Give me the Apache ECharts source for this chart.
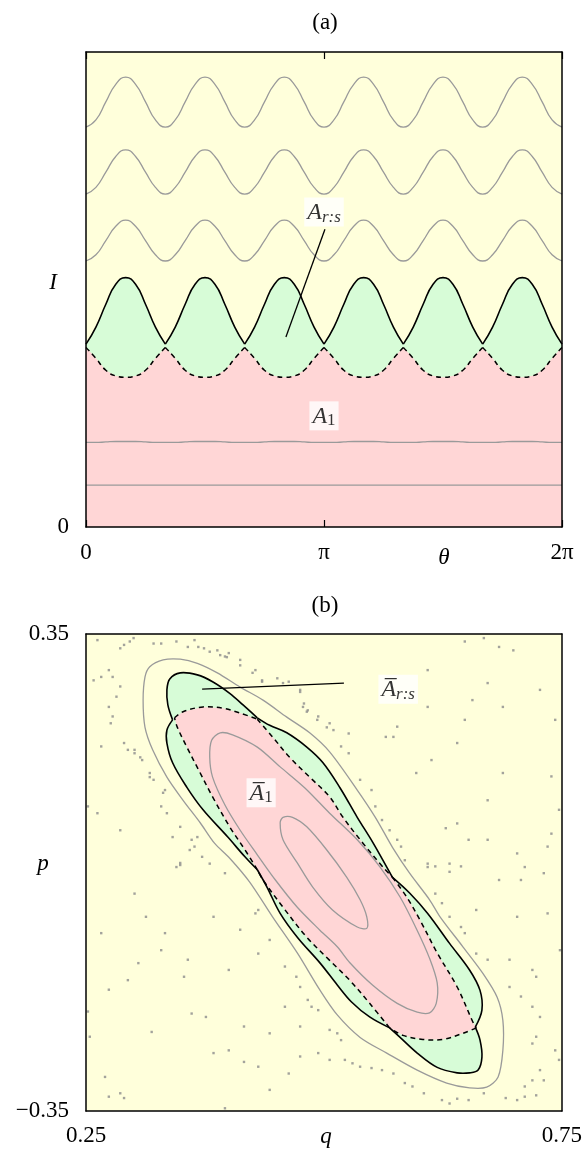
<!DOCTYPE html>
<html><head><meta charset="utf-8">
<script src="https://cdn.jsdelivr.net/npm/echarts@6.0.0/dist/echarts.min.js"></script>
<style>html,body{margin:0;padding:0;background:#fff}#c{width:585px;height:1150px}</style>
</head><body><div id="c"></div>
<script>
// ---------- panel (a): theta in units of pi, action I (0..1) ----------
const thetaTicks = ['0', 'π', '2π'];
const thetaGrid = [0, 0.0417, 0.0833, 0.125, 0.1667, 0.2083, 0.25, 0.2917, 0.3333, 0.375, 0.4167, 0.4583,
  0.5, 0.5417, 0.5833, 0.625, 0.6667, 0.7083, 0.75, 0.7917, 0.8333, 0.875, 0.9167, 0.9583,
  1, 1.0417, 1.0833, 1.125, 1.1667, 1.2083, 1.25, 1.2917, 1.3333, 1.375, 1.4167, 1.4583,
  1.5, 1.5417, 1.5833, 1.625, 1.6667, 1.7083, 1.75, 1.7917, 1.8333, 1.875, 1.9167, 1.9583, 2];
const lobeCusps = [0, 8, 16, 24, 32, 40, 48];   // grid indices of the separatrix cusps
const sepOuterI = [
  0.385, 0.421, 0.469, 0.511, 0.525, 0.511, 0.469, 0.421,
  0.385, 0.421, 0.469, 0.511, 0.525, 0.511, 0.469, 0.421,
  0.385, 0.421, 0.469, 0.511, 0.525, 0.511, 0.469, 0.421,
  0.385, 0.421, 0.469, 0.511, 0.525, 0.511, 0.469, 0.421,
  0.385, 0.421, 0.469, 0.511, 0.525, 0.511, 0.469, 0.421,
  0.385, 0.421, 0.469, 0.511, 0.525, 0.511, 0.469, 0.421, 0.385];
const sepInnerI = [
  0.378, 0.355, 0.330, 0.318, 0.315, 0.318, 0.330, 0.355,
  0.378, 0.355, 0.330, 0.318, 0.315, 0.318, 0.330, 0.355,
  0.378, 0.355, 0.330, 0.318, 0.315, 0.318, 0.330, 0.355,
  0.378, 0.355, 0.330, 0.318, 0.315, 0.318, 0.330, 0.355,
  0.378, 0.355, 0.330, 0.318, 0.315, 0.318, 0.330, 0.355,
  0.378, 0.355, 0.330, 0.318, 0.315, 0.318, 0.330, 0.355, 0.378];
const torus1I = [
  0.842, 0.857, 0.895, 0.932, 0.947, 0.932, 0.895, 0.857,
  0.842, 0.857, 0.895, 0.932, 0.947, 0.932, 0.895, 0.857,
  0.842, 0.857, 0.895, 0.932, 0.947, 0.932, 0.895, 0.857,
  0.842, 0.857, 0.895, 0.932, 0.947, 0.932, 0.895, 0.857,
  0.842, 0.857, 0.895, 0.932, 0.947, 0.932, 0.895, 0.857,
  0.842, 0.857, 0.895, 0.932, 0.947, 0.932, 0.895, 0.857, 0.842];
const torus2I = [
  0.701, 0.715, 0.747, 0.780, 0.794, 0.780, 0.747, 0.715,
  0.701, 0.715, 0.747, 0.780, 0.794, 0.780, 0.747, 0.715,
  0.701, 0.715, 0.747, 0.780, 0.794, 0.780, 0.747, 0.715,
  0.701, 0.715, 0.747, 0.780, 0.794, 0.780, 0.747, 0.715,
  0.701, 0.715, 0.747, 0.780, 0.794, 0.780, 0.747, 0.715,
  0.701, 0.715, 0.747, 0.780, 0.794, 0.780, 0.747, 0.715, 0.701];
const torus3I = [
  0.560, 0.573, 0.603, 0.633, 0.646, 0.633, 0.603, 0.573,
  0.560, 0.573, 0.603, 0.633, 0.646, 0.633, 0.603, 0.573,
  0.560, 0.573, 0.603, 0.633, 0.646, 0.633, 0.603, 0.573,
  0.560, 0.573, 0.603, 0.633, 0.646, 0.633, 0.603, 0.573,
  0.560, 0.573, 0.603, 0.633, 0.646, 0.633, 0.603, 0.573,
  0.560, 0.573, 0.603, 0.633, 0.646, 0.633, 0.603, 0.573, 0.560];
const torus4I = [
  0.178, 0.178, 0.179, 0.180, 0.180, 0.180, 0.179, 0.178,
  0.178, 0.178, 0.179, 0.180, 0.180, 0.180, 0.179, 0.178,
  0.178, 0.178, 0.179, 0.180, 0.180, 0.180, 0.179, 0.178,
  0.178, 0.178, 0.179, 0.180, 0.180, 0.180, 0.179, 0.178,
  0.178, 0.178, 0.179, 0.180, 0.180, 0.180, 0.179, 0.178,
  0.178, 0.178, 0.179, 0.180, 0.180, 0.180, 0.179, 0.178, 0.178];
const thetaEnds = [0, 2];
const torus5I = [0.088, 0.088];
const labelA_rs = [1.0, 0.663];
const pointerA_rs = [[1.004, 0.627], [0.840, 0.400]];
const labelA_1 = [1.0, 0.234];

// ---------- panel (b): (q, p) ----------
const qTicks = [0.25, 0.75];
const pTicks = [-0.35, 0.35];
const outerTorus = [[0.312,0.287],[0.317,0.302],[0.331,0.312],[0.349,0.313],[0.367,0.307],[0.388,0.293],
  [0.412,0.272],[0.436,0.253],[0.461,0.228],[0.485,0.205],[0.506,0.177],[0.535,0.121],[0.554,0.081],
  [0.572,0.037],[0.590,-0.001],[0.611,-0.040],[0.622,-0.065],[0.646,-0.109],[0.667,-0.148],[0.682,-0.183],
  [0.688,-0.217],[0.688,-0.261],[0.683,-0.300],[0.671,-0.315],[0.653,-0.316],[0.629,-0.309],[0.598,-0.290],
  [0.566,-0.265],[0.538,-0.242],[0.514,-0.209],[0.496,-0.173],[0.472,-0.118],[0.446,-0.065],[0.422,-0.014],
  [0.401,0.021],[0.385,0.043],[0.370,0.073],[0.352,0.106],[0.335,0.140],[0.320,0.180],[0.312,0.213],[0.310,0.253]];
const sepOuterQP = [[0.341,0.224],[0.336,0.246],[0.335,0.268],[0.338,0.284],[0.349,0.293],[0.367,0.290],
  [0.383,0.280],[0.401,0.263],[0.415,0.246],[0.430,0.227],[0.443,0.216],[0.461,0.205],[0.482,0.184],
  [0.499,0.161],[0.517,0.124],[0.535,0.081],[0.551,0.045],[0.566,0.008],[0.572,-0.007],[0.590,-0.030],
  [0.609,-0.060],[0.632,-0.104],[0.653,-0.143],[0.664,-0.173],[0.666,-0.202],[0.659,-0.227],[0.664,-0.246],
  [0.666,-0.271],[0.662,-0.290],[0.653,-0.294],[0.640,-0.294],[0.619,-0.286],[0.598,-0.265],[0.580,-0.242],
  [0.569,-0.228],[0.548,-0.212],[0.529,-0.190],[0.514,-0.165],[0.496,-0.133],[0.472,-0.095],[0.454,-0.060],
  [0.440,-0.021],[0.430,0.004],[0.417,0.023],[0.399,0.052],[0.373,0.092],[0.356,0.125],[0.341,0.161],
  [0.335,0.190],[0.335,0.209]];
const sepOuterCorners = [0, 9, 18, 25, 34, 42];
const sepInnerQP = [[0.343,0.227],[0.352,0.236],[0.373,0.243],[0.394,0.241],[0.412,0.234],[0.430,0.225],
  [0.446,0.199],[0.464,0.169],[0.485,0.140],[0.506,0.111],[0.520,0.081],[0.541,0.043],[0.562,0.008],
  [0.572,-0.007],[0.587,-0.036],[0.601,-0.070],[0.619,-0.118],[0.640,-0.168],[0.657,-0.221],[0.660,-0.228],
  [0.646,-0.236],[0.625,-0.245],[0.604,-0.245],[0.583,-0.239],[0.569,-0.228],[0.548,-0.192],[0.527,-0.158],
  [0.506,-0.129],[0.482,-0.095],[0.457,-0.051],[0.436,-0.011],[0.430,0.004],[0.419,0.029],[0.401,0.067],
  [0.383,0.111],[0.370,0.146],[0.356,0.184],[0.346,0.213]];
const sepInnerCorners = [0, 5, 13, 19, 24, 31];
const innerTorus1 = [[0.391,0.205],[0.382,0.194],[0.380,0.169],[0.383,0.140],[0.396,0.099],[0.412,0.062],
  [0.430,0.026],[0.449,-0.011],[0.472,-0.051],[0.496,-0.085],[0.514,-0.109],[0.527,-0.132],[0.551,-0.165],
  [0.577,-0.192],[0.598,-0.205],[0.611,-0.206],[0.618,-0.192],[0.619,-0.162],[0.611,-0.126],[0.598,-0.085],
  [0.580,-0.036],[0.559,0.008],[0.535,0.048],[0.506,0.087],[0.480,0.124],[0.454,0.155],[0.430,0.184],[0.404,0.202]];
const innerTorus2 = [[0.457,0.081],[0.454,0.073],[0.457,0.048],[0.472,0.014],[0.488,-0.021],[0.509,-0.055],
  [0.535,-0.080],[0.545,-0.082],[0.545,-0.065],[0.538,-0.040],[0.524,-0.007],[0.503,0.033],[0.482,0.067],[0.467,0.081]];
const chaoticDots = [
  [0.262,0.341],[0.286,0.329],[0.290,0.334],[0.296,0.339],[0.300,0.344],[0.321,0.336],[0.329,0.336],[0.345,0.339],
  [0.357,0.331],[0.364,0.341],[0.368,0.331],[0.374,0.329],[0.380,0.324],[0.388,0.326],[0.396,0.317],[0.400,0.322],
  [0.412,0.312],[0.428,0.297],[0.435,0.282],[0.451,0.285],[0.463,0.280],[0.475,0.268],[0.479,0.248],[0.483,0.238],
  [0.494,0.229],[0.506,0.219],[0.510,0.209],[0.518,0.185],[0.526,0.175],[0.538,0.136],[0.550,0.121],[0.554,0.097],
  [0.561,0.077],[0.569,0.062],[0.577,0.048],[0.581,0.038],[0.585,0.018],
  [0.258,0.282],[0.266,0.287],[0.274,0.297],[0.278,0.287],[0.286,0.273],[0.282,0.258],[0.274,0.243],[0.278,0.229],
  [0.276,0.219],[0.266,0.185],[0.290,0.190],[0.294,0.180],[0.301,0.175],[0.309,0.165],[0.317,0.146],[0.321,0.136],
  [0.333,0.121],[0.329,0.097],[0.349,0.067],[0.361,0.048],[0.364,0.038],[0.372,0.023],[0.380,0.013],[0.345,0.008],
  [0.286,0.062],[0.262,0.087],[0.252,0.097],
  [0.609,0.297],[0.648,0.339],[0.668,0.344],[0.684,0.331],[0.699,0.326],[0.727,0.268],[0.743,0.224],[0.672,0.278],
  [0.656,0.253],[0.688,0.243],[0.609,0.243],[0.573,0.199],[0.613,0.165],[0.597,0.146],[0.640,0.190],[0.648,0.224],
  [0.688,0.146],[0.672,0.106],[0.739,0.141],[0.747,0.092],[0.739,0.057],[0.703,0.028],[0.672,0.048],[0.640,0.072],
  [0.628,0.065],[0.652,0.048],[0.609,0.008],[0.632,0.013],[0.711,0.008],[0.735,0.038],[0.565,0.199],[0.577,0.214],
  [0.526,0.204],
  [0.349,0.011],[0.396,-0.001],[0.428,-0.060],[0.431,-0.055],[0.412,-0.084],[0.431,-0.119],[0.443,-0.099],[0.400,-0.143],
  [0.384,-0.065],[0.333,-0.089],[0.301,-0.031],[0.313,-0.065],[0.266,-0.089],[0.329,-0.114],[0.305,-0.133],[0.357,-0.128],
  [0.294,-0.158],[0.274,-0.172],[0.353,-0.153],[0.361,-0.207],[0.376,-0.212],[0.319,-0.234],[0.254,-0.241],[0.252,-0.204],
  [0.270,-0.300],[0.274,-0.329],[0.286,-0.324],[0.290,-0.331],[0.384,-0.265],[0.400,-0.261],[0.416,-0.278],[0.431,-0.285],
  [0.443,-0.319],[0.463,-0.295],[0.475,-0.270],[0.494,-0.265],[0.506,-0.231],[0.514,-0.236],[0.518,-0.246],[0.530,-0.280],
  [0.538,-0.285],[0.550,-0.287],[0.561,-0.290],[0.573,-0.295],[0.585,-0.309],[0.593,-0.314],[0.605,-0.324],[0.624,-0.334],
  [0.632,-0.339],[0.640,-0.332],[0.652,-0.334],[0.668,-0.324],[0.691,-0.331],[0.703,-0.334],[0.711,-0.329],[0.723,-0.327],
  [0.396,-0.346],[0.617,0.009],[0.644,0.009],[0.609,0.013],[0.617,-0.031],[0.624,-0.045],[0.632,-0.065],[0.644,-0.080],
  [0.648,-0.089],[0.660,-0.119],[0.672,-0.128],[0.684,-0.011],[0.695,-0.128],[0.707,-0.011],[0.731,-0.001],[0.735,-0.060],
  [0.719,-0.143],[0.723,-0.153],[0.695,-0.168],[0.707,-0.182],[0.719,-0.197],[0.727,-0.212],[0.723,-0.241],[0.719,-0.251],
  [0.743,-0.261],[0.747,-0.275],[0.727,-0.290],[0.719,-0.305],[0.711,-0.314],[0.731,-0.305],[0.703,-0.065],[0.660,-0.055],
  [0.459,-0.138],[0.471,-0.153],[0.475,-0.168],[0.483,-0.187],[0.487,-0.197],[0.494,-0.202],[0.459,-0.197],[0.416,-0.226],
  [0.443,-0.236],[0.475,-0.226],[0.506,-0.275],[0.522,-0.275],[0.632,0.001],[0.748,-0.114],
  [0.391,0.319],[0.398,0.316],[0.412,0.304],[0.425,0.293],[0.435,0.280],[0.457,0.278],[0.475,0.265],[0.478,0.243],
  [0.482,0.236],[0.493,0.224],[0.503,0.213],
  [0.301,0.180],[0.307,0.169],[0.317,0.140],[0.331,0.117],[0.335,0.087],[0.341,0.052],[0.359,0.033],[0.349,0.014],[0.367,0.052]];
const labelAbar_rs = [0.578, 0.269];
const pointerAbar_rs = [[0.521, 0.278], [0.372, 0.269]];
const labelAbar_1 = [0.434, 0.117];

// ---------- styling ----------
const SERIF = "'Liberation Serif', 'DejaVu Serif', serif";
const FS = 23;
const YELLOW = '#FFFFDB', GREEN = '#D7FCD7', PINK = '#FFD6D6', GRAY = '#9a9a9a';
const zip = (xs, ys) => xs.map((x, i) => [x, ys[i]]);

function frameAxis(gridIndex, position, extra) {
  return Object.assign({
    type: 'value', gridIndex, position, z: 10,
    axisLine: { show: true, onZero: false, lineStyle: { color: '#000', width: 1.5 } },
    axisTick: { show: false }, axisLabel: { show: false }, splitLine: { show: false }
  }, extra || {});
}
const labelStyle = { fontSize: FS, fontFamily: SERIF, color: '#000' };

function lineS(data, opt) {
  return Object.assign({ type: 'line', xAxisIndex: 0, yAxisIndex: 0, data, symbol: 'none',
    silent: true, animation: false }, opt);
}
// one series per lobe so that the cusps stay sharp while each lobe is smooth
function lobeSeries(ys, opt) {
  const out = [];
  for (let k = 0; k < lobeCusps.length - 1; k++) {
    const a = lobeCusps[k], b = lobeCusps[k + 1] + 1;
    out.push(lineS(zip(thetaGrid.slice(a, b), ys.slice(a, b)), Object.assign({ smooth: 0.5 }, opt)));
  }
  return out;
}
const noLine = { width: 0, opacity: 0 };
function polyS(points, style, z) {
  return {
    type: 'custom', xAxisIndex: 2, yAxisIndex: 2, z, silent: true, clip: true, animation: false,
    data: [[0.5, 0]],
    renderItem: (params, api) => ({
      type: 'polygon',
      shape: { points: points.map(pt => api.coord(pt)), smooth: style.smooth || 0 },
      style: { fill: style.fill || 'none', stroke: style.stroke || null,
               lineWidth: style.lineWidth || 0, lineDash: style.lineDash || null }
    })
  };
}
// closed curve stroked as smooth pieces between its corner points
function piecewiseS(points, corners, style, z) {
  return {
    type: 'custom', xAxisIndex: 2, yAxisIndex: 2, z, silent: true, clip: true, animation: false,
    data: [[0.5, 0]],
    renderItem: (params, api) => {
      const px = points.map(pt => api.coord(pt));
      const children = [];
      for (let k = 0; k < corners.length; k++) {
        const a = corners[k], b = k + 1 < corners.length ? corners[k + 1] : points.length;
        const seg = px.slice(a, b + 1);
        if (b === points.length) seg.push(px[0]);
        children.push({ type: 'polyline', shape: { points: seg, smooth: 0.35 },
          style: { fill: 'none', stroke: style.stroke, lineWidth: style.lineWidth, lineDash: style.lineDash || null } });
      }
      return { type: 'group', children };
    }
  };
}
function labelS(xi, yi, pos, text, z) {
  return {
    type: 'scatter', xAxisIndex: xi, yAxisIndex: yi, z, silent: true, animation: false,
    symbolSize: 0, data: [pos],
    label: {
      show: true, position: 'inside', formatter: text,
      backgroundColor: '#fff', padding: [2, 3, 1, 3],
      rich: {
        m: { fontFamily: SERIF, fontStyle: 'italic', fontSize: 24, lineHeight: 26, color: '#000' },
        s: { fontFamily: SERIF, fontStyle: 'italic', fontSize: 17, lineHeight: 17, verticalAlign: 'bottom', color: '#000' },
        n: { fontFamily: SERIF, fontSize: 17, lineHeight: 17, verticalAlign: 'bottom', color: '#000' }
      }
    }
  };
}

const option = {
  animation: false,
  backgroundColor: '#fff',
  grid: [
    { left: 86, top: 52, width: 476, height: 475, show: true, backgroundColor: YELLOW, borderWidth: 0 },
    { left: 86, top: 634, width: 476, height: 477, show: true, backgroundColor: YELLOW, borderWidth: 0 }
  ],
  xAxis: [
    frameAxis(0, 'bottom', {
      min: 0, max: 2, interval: 1,
      axisTick: { show: true, inside: true, length: 7, lineStyle: { color: '#000', width: 1.2 } },
      axisLabel: Object.assign({ show: true, margin: 14, formatter: v => thetaTicks[Math.round(v)] }, labelStyle)
    }),
    frameAxis(0, 'top', { min: 0, max: 2, interval: 1,
      axisTick: { show: true, inside: true, length: 7, lineStyle: { color: '#000', width: 1.2 } } }),
    frameAxis(1, 'bottom', {
      min: 0.25, max: 0.75, interval: 0.25,
      axisLabel: Object.assign({ show: true, margin: 13,
        formatter: v => (Math.abs(v - qTicks[0]) < 1e-6 ? '0.25' : Math.abs(v - qTicks[1]) < 1e-6 ? '0.75' : '') }, labelStyle)
    }),
    frameAxis(1, 'top', { min: 0.25, max: 0.75, interval: 0.25 })
  ],
  yAxis: [
    frameAxis(0, 'left', {
      min: 0, max: 1, interval: 1,
      axisLabel: Object.assign({ show: true, margin: 17, formatter: v => (v === 0 ? '0' : '') }, labelStyle)
    }),
    frameAxis(0, 'right', { min: 0, max: 1, interval: 1 }),
    frameAxis(1, 'left', {
      min: -0.35, max: 0.35, interval: 0.35,
      axisLabel: Object.assign({ show: true, margin: 17,
        formatter: v => (v < pTicks[0] / 2 ? '\u22120.35' : v > pTicks[1] / 2 ? '0.35' : '') }, labelStyle)
    }),
    frameAxis(1, 'right', { min: -0.35, max: 0.35, interval: 0.35 })
  ],
  graphic: [
    { type: 'text', x: 325, y: 23, style: { text: '(a)', font: FS + "px " + SERIF, fill: '#000', align: 'center', verticalAlign: 'middle' } },
    { type: 'text', x: 325, y: 606, style: { text: '(b)', font: FS + "px " + SERIF, fill: '#000', align: 'center', verticalAlign: 'middle' } },
    { type: 'text', x: 53, y: 283, style: { text: 'I', font: "italic " + FS + "px " + SERIF, fill: '#000', align: 'center', verticalAlign: 'middle' } },
    { type: 'text', x: 444, y: 558, style: { text: 'θ', font: "italic " + FS + "px " + SERIF, fill: '#000', align: 'center', verticalAlign: 'middle' } },
    { type: 'text', x: 43, y: 864, style: { text: 'p', font: "italic " + FS + "px " + SERIF, fill: '#000', align: 'center', verticalAlign: 'middle' } },
    { type: 'text', x: 326, y: 1137, style: { text: 'q', font: "italic " + FS + "px " + SERIF, fill: '#000', align: 'center', verticalAlign: 'middle' } }
  ],
  series: [].concat(
    // panel (a): whole-curve base fills (no seams), then smooth per-lobe fills on top
    [
      lineS(zip(thetaGrid, sepOuterI), { z: 2, lineStyle: noLine, areaStyle: { color: GREEN, opacity: 1 } })
    ],
    lobeSeries(sepOuterI, { z: 2, lineStyle: noLine, areaStyle: { color: GREEN, opacity: 1 } }),
    [
      lineS(zip(thetaGrid, sepInnerI), { z: 3, lineStyle: noLine, areaStyle: { color: PINK, opacity: 1 } })
    ],
    lobeSeries(sepInnerI, { z: 3, lineStyle: noLine, areaStyle: { color: PINK, opacity: 1 } }),
    [
      lineS(zip(thetaGrid, torus1I), { z: 4, smooth: 0.5, lineStyle: { color: GRAY, width: 1.3 } }),
      lineS(zip(thetaGrid, torus2I), { z: 4, smooth: 0.5, lineStyle: { color: GRAY, width: 1.3 } }),
      lineS(zip(thetaGrid, torus3I), { z: 4, smooth: 0.5, lineStyle: { color: GRAY, width: 1.3 } }),
      lineS(zip(thetaGrid, torus4I), { z: 4, smooth: 0.5, lineStyle: { color: GRAY, width: 1.3 } }),
      lineS(zip(thetaEnds, torus5I), { z: 4, lineStyle: { color: GRAY, width: 1.3 } })
    ],
    lobeSeries(sepInnerI, { z: 5, lineStyle: { color: '#000', width: 1.5, type: [5, 4] } }),
    lobeSeries(sepOuterI, { z: 6, lineStyle: { color: '#000', width: 1.6 } }),
    [
      lineS(pointerA_rs, { z: 7, lineStyle: { color: '#000', width: 1.3 } }),
      labelS(0, 0, labelA_rs, '{m|A}{s|r:s}', 8),
      labelS(0, 0, labelA_1, '{m|A}{n|1}', 8),
      // panel (b)
      { type: 'scatter', xAxisIndex: 2, yAxisIndex: 2, z: 2, silent: true, animation: false,
        symbol: 'rect', symbolSize: 2.4, itemStyle: { color: '#8c8c8c' }, data: chaoticDots },
      polyS(outerTorus, { stroke: GRAY, lineWidth: 1.3, smooth: 0.3 }, 3),
      polyS(sepOuterQP, { fill: GREEN }, 4),
      polyS(sepInnerQP, { fill: PINK }, 5),
      polyS(innerTorus1, { stroke: GRAY, lineWidth: 1.3, smooth: 0.3 }, 6),
      polyS(innerTorus2, { stroke: GRAY, lineWidth: 1.3, smooth: 0.3 }, 6),
      piecewiseS(sepInnerQP, sepInnerCorners, { stroke: '#000', lineWidth: 1.5, lineDash: [5, 4] }, 7),
      piecewiseS(sepOuterQP, sepOuterCorners, { stroke: '#000', lineWidth: 1.6 }, 8),
      { type: 'line', xAxisIndex: 2, yAxisIndex: 2, z: 9, data: pointerAbar_rs, symbol: 'none', silent: true,
        animation: false, lineStyle: { color: '#000', width: 1.3 } },
      labelS(2, 2, labelAbar_rs, '{m|A\u0305}{s|r:s}', 10),
      labelS(2, 2, labelAbar_1, '{m|A\u0305}{n|1}', 10)
    ]
  )
};
const chart = echarts.init(document.getElementById('c'), null, { renderer: 'canvas' });
chart.setOption(option);
</script></body></html>
